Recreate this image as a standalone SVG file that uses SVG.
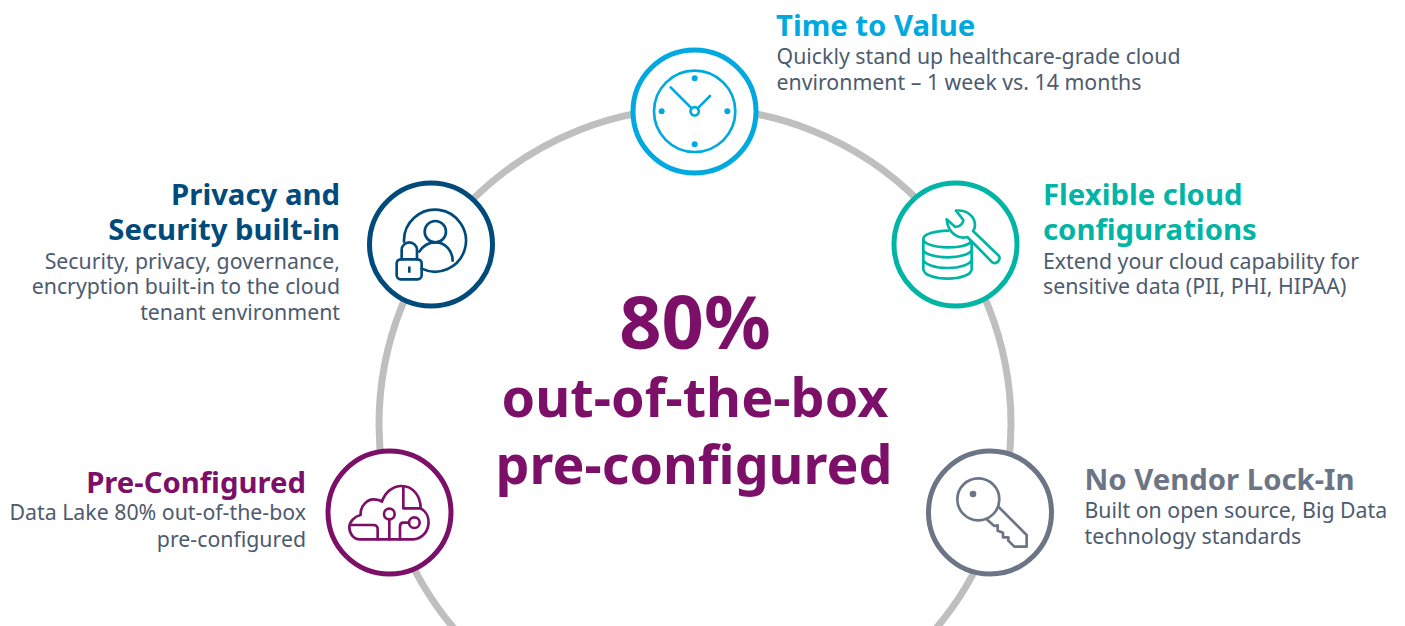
<svg xmlns="http://www.w3.org/2000/svg" width="1405" height="626" viewBox="0 0 1405 626">
<style>
text{font-family:"Noto Sans","Open Sans","Liberation Sans",sans-serif}
.t{font-weight:700;font-size:29.300px}
.b{font-size:21.300px;fill:#4d5b6f}
.e{text-anchor:end}
.c{text-anchor:middle;font-weight:700;fill:#7c0f68}
.n{fill:#fff;stroke-width:5}
.i{fill:none;stroke-width:8;stroke-linecap:round;stroke-linejoin:round}
</style>
<rect width="1405" height="626" fill="#fff"/>
<g id="connectors"><circle cx="695" cy="424" r="316" fill="none" stroke="#bfbfbf" stroke-width="7"/></g>
<g id="center"><text class="c" x="695" y="349" font-size="74">80%</text><text class="c" x="695" y="417" font-size="53.900">out-of-the-box</text><text class="c" x="694" y="484" font-size="53.700">pre-configured</text></g>
<g id="time-to-value" stroke="#00a9e0" fill="#00a9e0">
<circle class="n" cx="694.500" cy="111.500" r="61.500"/>
<g transform="translate(620 35) scale(.3333)" class="i"><circle cx="224" cy="229" r="122"/><circle cx="224" cy="229" r="12.500"/><path d="M152 157L215 220M270 183L233 220"/><g fill="#00a9e0" stroke="none"><circle cx="224" cy="130" r="9"/><circle cx="224" cy="328" r="9"/><circle cx="125" cy="229" r="9"/><circle cx="322" cy="229" r="9"/></g></g>
<text class="t" x="776" y="36" stroke="none">Time to Value</text>
<text class="b" x="776.500" y="64" stroke="none">Quickly stand up healthcare-grade cloud</text>
<text class="b" x="776.500" y="90" stroke="none">environment – 1 week vs. 14 months</text>
</g>
<g id="privacy-security" stroke="#004b7c" fill="#004b7c">
<circle class="n" cx="431" cy="244.500" r="61.500"/>
<g transform="translate(360 170) scale(.3333)" class="i"><path d="M132 215A93 93 0 1 1 185 296"/><circle cx="226" cy="185" r="32"/><path d="M178 245C190 226 208 217 226 217C258 217 278 245 278 272"/><rect x="110" y="268" width="75" height="60" rx="12"/><path d="M125 268V240A23 23 0 0 1 171 240V268"/><path d="M148 293V305"/></g>
<text class="t e" x="340" y="205" stroke="none">Privacy and</text>
<text class="t e" x="340" y="240" stroke="none">Security built-in</text>
<text class="b e" x="340" y="269" stroke="none">Security, privacy, governance,</text>
<text class="b e" x="340" y="294" stroke="none">encryption built-in to the cloud</text>
<text class="b e" x="340" y="320" stroke="none">tenant environment</text>
</g>
<g id="flexible-cloud" stroke="#00b5a5" fill="#00b5a5">
<circle class="n" cx="955.500" cy="244.500" r="61.500"/>
<g transform="translate(880 170) scale(.3333)" class="i"><path d="M205 182C165 183 130 192 130 207C130 222 165 232 203 232C240 232 275 225 275 207V297C275 315 240 326 203 326C165 326 130 315 130 297V207M130 238C130 252 165 262 203 262C240 262 275 252 275 238M130 268C130 282 165 294 203 294C240 294 275 282 275 268"/><path d="M228 122C258 118 285 138 285 165C285 172 283 178 279 183L357 258C363 270 350 284 337 277L262 201C240 208 205 195 200 148L225 170C238 172 250 162 250 150Z" fill="#fff"/></g>
<text class="t" x="1043" y="205" stroke="none">Flexible cloud</text>
<text class="t" x="1043" y="240" stroke="none">configurations</text>
<text class="b" x="1043" y="269" stroke="none">Extend your cloud capability for</text>
<text class="b" x="1043" y="294" stroke="none">sensitive data (PII, PHI, HIPAA)</text>
</g>
<g id="pre-configured" stroke="#7c0f68" fill="#7c0f68">
<circle class="n" cx="389.500" cy="512.500" r="61.500"/>
<g transform="translate(320 440) scale(.3333)" class="i"><path d="M120 298C100 298 88 280 88 262C88 245 105 228 122 225C120 195 145 178 160 178C170 178 180 180 186 185C195 155 220 138 245 138C280 138 302 170 302 205C320 215 328 235 325 255C322 280 300 298 280 298Z"/><path d="M250 140V205H302M90 255H160Q173 255 173 268V298M208 238V298M267 248H250Q240 248 240 260V298"/><circle cx="208" cy="222" r="16"/><circle cx="283" cy="248" r="16"/></g>
<text class="t e" x="306" y="493" stroke="none">Pre-Configured</text>
<text class="b e" x="306" y="520" stroke="none">Data Lake 80% out-of-the-box</text>
<text class="b e" x="306" y="547" stroke="none">pre-configured</text>
</g>
<g id="no-vendor-lock-in" stroke="#6b7585" fill="#6b7585">
<circle class="n" cx="990" cy="512.500" r="61.500"/>
<g transform="translate(915 440) scale(.3333)" class="i"><circle cx="190" cy="178" r="63"/><circle cx="174" cy="162" r="10" fill="#6b7585" stroke="none"/><path d="M250 200L335 285V320H298L280 302V292L264 292V278L248 272V256L238 258L215 238"/></g>
<text class="t" x="1084.500" y="490" stroke="none">No Vendor Lock-In</text>
<text class="b" x="1084.500" y="518" stroke="none">Built on open source, Big Data</text>
<text class="b" x="1084.500" y="544" stroke="none">technology standards</text>
</g>
</svg>
